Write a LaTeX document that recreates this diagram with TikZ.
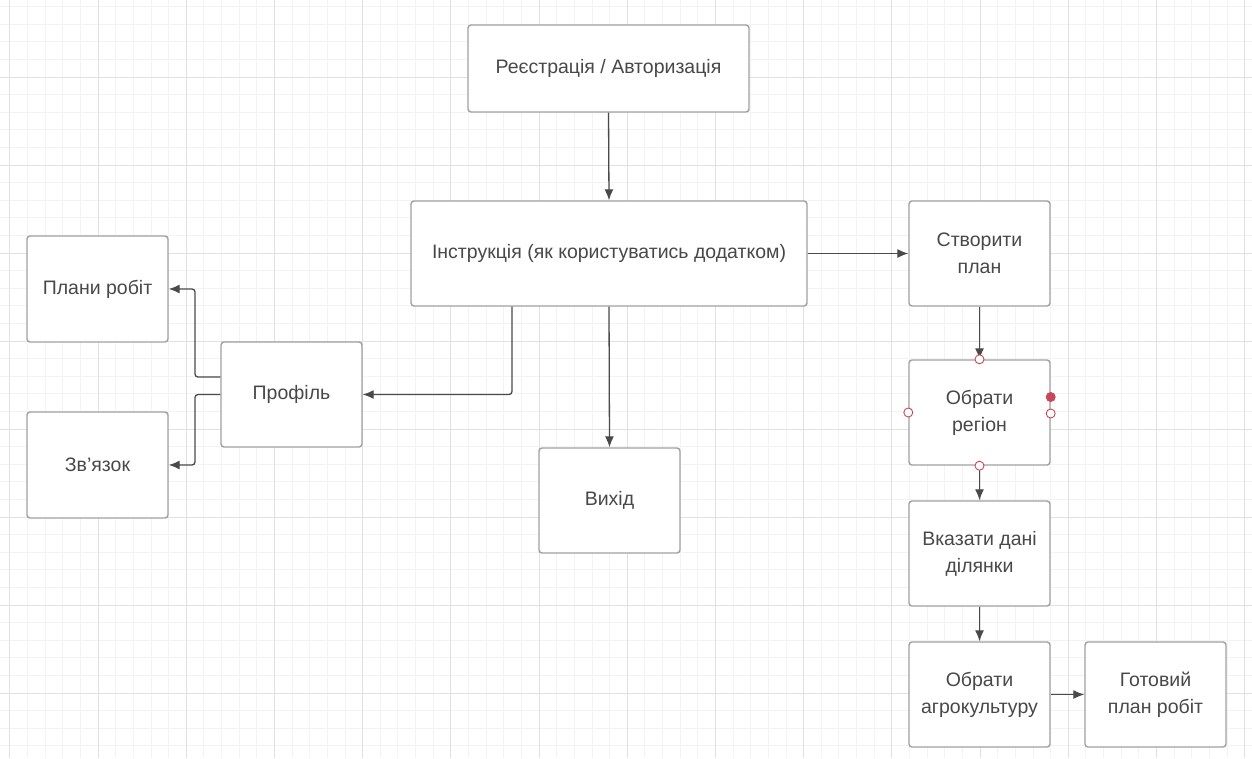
\documentclass[tikz,border=0pt]{standalone}
\usepackage{fontspec}
\setmainfont{Liberation Sans}
\usetikzlibrary{arrows.meta}
\definecolor{gridminor}{HTML}{F3F3F3}
\definecolor{gridmajor}{HTML}{E1E1E1}
\definecolor{boxline}{HTML}{A0A0A0}
\definecolor{txt}{HTML}{484848}
\definecolor{conn}{HTML}{4A4A4A}
\definecolor{handle}{HTML}{C8485A}
\tikzset{
  stepbox/.style={draw=boxline, line width=1.4pt, rounded corners=3pt, fill=white,
    text=txt, font=\fontsize{19.5}{27}\selectfont, align=center, inner sep=0pt,
    minimum width=141pt, minimum height=105pt},
  conn/.style={draw=conn, line width=1.3pt, rounded corners=3pt,
    -{Latex[length=11pt,width=9pt]}},
  hnd/.style={circle, draw=handle, fill=white, line width=0.9pt, inner sep=0pt, minimum size=9pt},
  hndf/.style={circle, draw=handle, fill=handle, line width=0.9pt, inner sep=0pt, minimum size=9pt}
}
\begin{document}
\begin{tikzpicture}[x=1pt,y=-1pt]
\useasboundingbox (0,0) rectangle (1252,758);
\fill[white] (0,0) rectangle (1252,758);
% grid
\foreach \i in {0,...,72} {
  \draw[gridminor, line width=0.8pt] ({9.8+17.64*(\i-1)},0) -- ({9.8+17.64*(\i-1)},758);
}
\foreach \i in {0,...,45} {
  \draw[gridminor, line width=0.8pt] (0,{-11+17.6*\i}) -- (1252,{-11+17.6*\i});
}
\foreach \i in {0,...,14} {
  \draw[gridmajor, line width=1pt] ({9.8+88.2*\i},0) -- ({9.8+88.2*\i},758);
}
\foreach \i in {1,...,9} {
  \draw[gridmajor, line width=1pt] (0,{-11+88*\i}) -- (1252,{-11+88*\i});
}
% nodes
\node[stepbox, minimum width=281pt, minimum height=87pt] (reg) at (608.5,68.5) {Реєстрація / Авторизація};
\node[stepbox, minimum width=396pt, minimum height=105pt] (instr) at (609,253.5) {Інструкція (як користуватись додатком)};
\node[stepbox] (create) at (979.5,253.5) {Створити\\план};
\node[stepbox] (region) at (979.5,412.5) {Обрати\\регіон};
\node[stepbox] (data) at (979.5,553.5) {Вказати дані\\ділянки};
\node[stepbox] (agro) at (979.5,694.5) {Обрати\\агрокультуру};
\node[stepbox] (ready) at (1155.5,694.5) {Готовий\\план робіт};
\node[stepbox, minimum height=106pt] (plans) at (97.5,289) {Плани робіт};
\node[stepbox, minimum height=106pt] (contact) at (97.5,465) {Зв’язок};
\node[stepbox] (profile) at (291.5,394.5) {Профіль};
\node[stepbox] (exit) at (609.5,500.5) {Вихід};
% connectors
\draw[conn] (reg.south) -- (instr.north);
\draw[conn] (instr.east) -- (create.west);
\draw[conn] (instr.south) -- (exit.north);
\draw[conn] ([xshift=-97pt]instr.south) |- (profile.east);
\draw[conn] (create.south) -- (region.north);
\draw[conn] (region.south) -- (data.north);
\draw[conn] (data.south) -- (agro.north);
\draw[conn] (agro.east) -- (ready.west);
\coordinate (pu) at ([yshift=17.5pt]profile.west);
\draw[conn] (pu) -- (195,377) |- (plans.east);
\draw[conn] (profile.west) -- (195,394.5) |- (contact.east);
% selection handles
\node[hnd] (h1) at (region.north) {};
\node[hnd] (h2) at (region.south) {};
\node[hnd] (h3) at (region.west) {};
\node[hnd] (h4) at ([yshift=-1pt]region.east) {};
\node[hndf] (h5) at ([yshift=15.5pt]region.east) {};
\end{tikzpicture}
\end{document}
